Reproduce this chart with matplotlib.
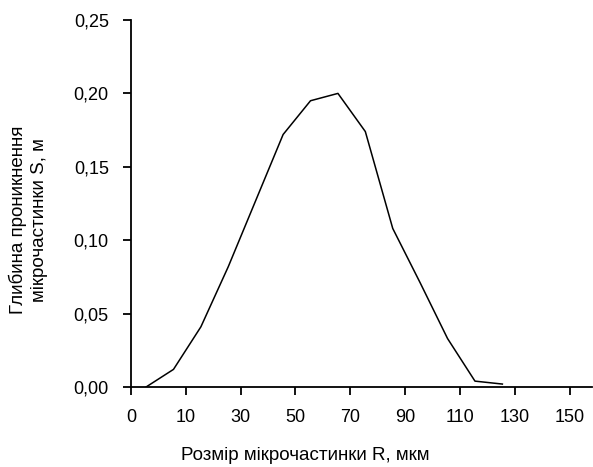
import numpy as np
import matplotlib
matplotlib.use("Agg")
import matplotlib.pyplot as plt

# Depth of penetration S (m) per particle-size category
depth_s = [0.000, 0.012, 0.041, 0.082, 0.127, 0.172, 0.195, 0.200,
           0.174, 0.108, 0.071, 0.033, 0.004, 0.002]
tick_labels = ["0", "10", "30", "50", "70", "90", "110", "130", "150"]
y_ticks = [0.00, 0.05, 0.10, 0.15, 0.20, 0.25]

plt.rcParams["font.family"] = ["Liberation Sans", "DejaVu Sans"]

fig = plt.figure(figsize=(5.93, 4.67), dpi=100)
ax = fig.add_axes([131 / 593, 80 / 467, 461 / 593, 367 / 467])

x = np.arange(len(depth_s)) + 0.55
ax.plot(x, depth_s, color="black", linewidth=1.1)

ax.set_xlim(0, 16.82)
ax.set_ylim(0, 0.25)
ax.set_xticks(np.arange(len(tick_labels)) * 2)
ax.set_xticklabels(tick_labels)
ax.set_yticks(y_ticks)
ax.set_yticklabels([f"{v:.2f}".replace(".", ",") for v in y_ticks])

for side in ("top", "right"):
    ax.spines[side].set_visible(False)
for side in ("left", "bottom"):
    ax.spines[side].set_linewidth(1.3)
ax.tick_params(axis="both", direction="out", length=6, width=1.3,
               labelsize=13, colors="black")
ax.tick_params(axis="y", pad=10)
ax.tick_params(axis="x", pad=10)

fig.text(305 / 593, 1 - 455 / 467, "Розмір мікрочастинки R, мкм",
         ha="center", va="center", fontsize=13.5)
fig.text(28 / 593, 1 - 220 / 467, "Глибина проникнення\nмікрочастинки S, м",
         ha="center", va="center", rotation=90, fontsize=13.5,
         multialignment="center", linespacing=1.3)

fig.savefig("out.png", dpi=100)
